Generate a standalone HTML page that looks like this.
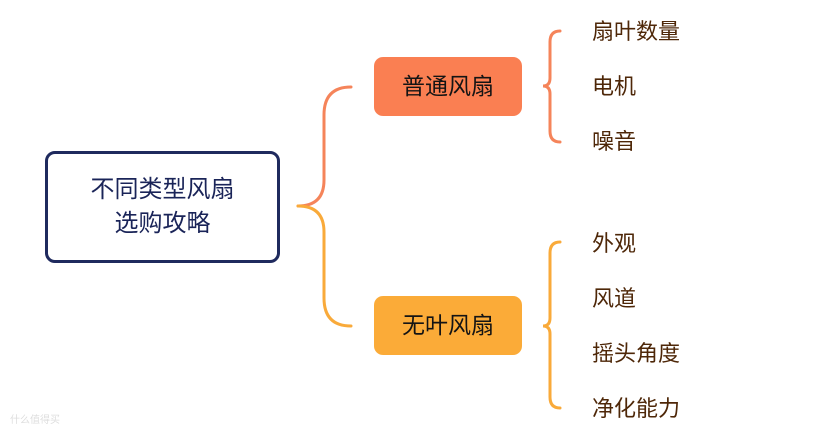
<!DOCTYPE html>
<html><head><meta charset="utf-8"><style>
body{margin:0;width:828px;height:437px;background:#fff;overflow:hidden;position:relative;font-family:"Liberation Sans","Noto Sans CJK SC",sans-serif}
.t{position:absolute;font-size:22px;color:#4e2708;line-height:24px}
.b{position:absolute;left:374px;width:148px;height:59px;border-radius:9px;font-size:23px;color:#141414;text-align:center;line-height:59px}
</style></head><body>
<svg width="828" height="437" style="position:absolute;left:0;top:0" fill="none" stroke-width="3" stroke-linecap="round">
<path d="M351 87 Q324 87 324 115 L324 180 Q324 206 298 206" stroke="#f5845a"/>
<path d="M298 206 Q324 206 324 232 L324 298 Q324 326 351 326" stroke="#f9aa3a"/>
<path d="M560 31 Q550 31 550 42 L550 78 Q550 86 543 86 Q550 86 550 94 L550 131 Q550 142 560 142" stroke="#f5845a"/>
<path d="M560 242 Q550 242 550 253 L550 318 Q550 326 543 326 Q550 326 550 334 L550 397 Q550 408 560 408" stroke="#f9aa3a"/>
</svg>
<div style="position:absolute;left:45px;top:151px;width:229px;height:106px;border:3px solid #1f2a5e;border-radius:10px;color:#1a2458;font-size:24px;text-align:center;display:flex;align-items:center;justify-content:center;line-height:34px">不同类型风扇<br>选购攻略</div>
<div class="b" style="top:57px;background:#fa7f52">普通风扇</div>
<div class="b" style="top:296px;background:#fbab38">无叶风扇</div>
<div class="t" style="left:592px;top:20px">扇叶数量</div>
<div class="t" style="left:592px;top:75px">电机</div>
<div class="t" style="left:592px;top:130px">噪音</div>
<div class="t" style="left:592px;top:232px">外观</div>
<div class="t" style="left:592px;top:287px">风道</div>
<div class="t" style="left:592px;top:342px">摇头角度</div>
<div class="t" style="left:592px;top:397px">净化能力</div>
<div style="position:absolute;left:10px;top:411px;font-size:10px;color:#ddd">什么值得买</div>
</body></html>
